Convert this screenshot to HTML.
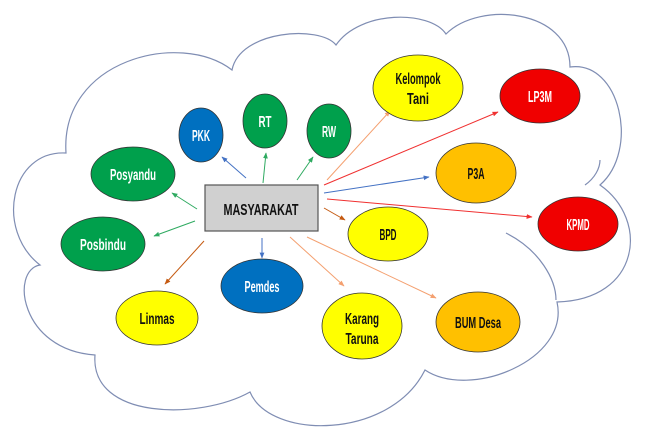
<!DOCTYPE html>
<html><head><meta charset="utf-8"><style>
html,body{margin:0;padding:0;background:#fff;}
svg{display:block;}
text{font-family:"Liberation Sans",sans-serif;font-weight:bold;font-size:16px;text-anchor:middle;}
</style></head><body>
<svg width="648" height="443" viewBox="0 0 648 443" xmlns="http://www.w3.org/2000/svg">
<defs>
<marker id="m" viewBox="0 0 10 10" refX="9" refY="5" markerWidth="6" markerHeight="6" orient="auto-start-reverse"><path d="M0,1 L10,5 L0,9 z" fill="context-stroke"/></marker>
</defs>
<path d="M66,153 C60,60 180,30 232,70 C240,30 320,25 336,45 C360,10 430,10 446,34 C480,0 570,10 570,67 C620,60 640,150 600,185 C650,220 640,300 557,302 C570,360 470,400 425,370 C390,440 270,440 250,392 C200,420 90,420 95,355 C20,350 10,270 40,265 C-5,230 10,150 66,153 Z" fill="#fff" stroke="#7f8db3" stroke-width="1.2"/>
<path d="M506,233 C540,250 556,280 556,300" fill="none" stroke="#7f8db3" stroke-width="1.2"/>
<path d="M585,185 C595,178 600,168 600,160" fill="none" stroke="#7f8db3" stroke-width="1.2"/>

<g stroke-width="1" fill="none" marker-end="url(#m)">
<line x1="246" y1="178" x2="222" y2="157" stroke="#4472c4"/>
<line x1="263" y1="183" x2="266" y2="153" stroke="#2eaa60"/>
<line x1="297" y1="180" x2="313" y2="157" stroke="#2eaa60"/>
<line x1="197" y1="209" x2="172" y2="193" stroke="#2eaa60"/>
<line x1="195" y1="221" x2="154" y2="236" stroke="#2eaa60"/>
<line x1="327" y1="180" x2="390" y2="111" stroke="#f4a070"/>
<line x1="324" y1="185" x2="498" y2="112" stroke="#f03030"/>
<line x1="324" y1="193" x2="429" y2="177" stroke="#4472c4"/>
<line x1="327" y1="199" x2="532" y2="217" stroke="#f03030"/>
<line x1="324" y1="208" x2="345" y2="220" stroke="#c55a11"/>
<line x1="262" y1="238" x2="262" y2="258" stroke="#4472c4"/>
<line x1="204" y1="241" x2="165" y2="284" stroke="#c55a11"/>
<line x1="290" y1="237" x2="344" y2="286" stroke="#f4a070"/>
<line x1="307" y1="237" x2="436" y2="298" stroke="#f4a070"/>
</g>

<rect x="205" y="185" width="113" height="46" fill="#d0d0d0" stroke="#555" stroke-width="1.2"/>
<text x="261" y="215" font-size="20" fill="#111" textLength="75" lengthAdjust="spacingAndGlyphs">MASYARAKAT</text>

<g stroke="#333" stroke-width="0.8">
<ellipse cx="201" cy="135" rx="22" ry="27" fill="#0070c0"/>
<ellipse cx="265" cy="121" rx="22" ry="27" fill="#00a04c"/>
<ellipse cx="329" cy="131" rx="22" ry="27" fill="#00a04c"/>
<ellipse cx="133" cy="174" rx="42" ry="27" fill="#00a04c"/>
<ellipse cx="103" cy="244" rx="42" ry="27" fill="#00a04c"/>
<ellipse cx="418" cy="88" rx="45" ry="33" fill="#ffff00"/>
<ellipse cx="540" cy="96" rx="40" ry="27" fill="#f00000"/>
<ellipse cx="476" cy="173" rx="40" ry="30" fill="#ffc000"/>
<ellipse cx="578" cy="224" rx="40" ry="27" fill="#f00000"/>
<ellipse cx="388" cy="234" rx="40" ry="27" fill="#ffff00"/>
<ellipse cx="262" cy="286" rx="41" ry="27" fill="#0070c0"/>
<ellipse cx="157" cy="318" rx="41" ry="27" fill="#ffff00"/>
<ellipse cx="362" cy="326" rx="40" ry="33" fill="#ffff00"/>
<ellipse cx="478" cy="322" rx="42" ry="30" fill="#ffc000"/>
</g>

<g fill="#fff">
<text x="201" y="141" textLength="18" lengthAdjust="spacingAndGlyphs">PKK</text>
<text x="265" y="127" textLength="13" lengthAdjust="spacingAndGlyphs">RT</text>
<text x="329" y="137" textLength="14" lengthAdjust="spacingAndGlyphs">RW</text>
<text x="133" y="180" textLength="46" lengthAdjust="spacingAndGlyphs">Posyandu</text>
<text x="103" y="250" textLength="46" lengthAdjust="spacingAndGlyphs">Posbindu</text>
<text x="540" y="102" textLength="24" lengthAdjust="spacingAndGlyphs">LP3M</text>
<text x="578" y="230" textLength="23" lengthAdjust="spacingAndGlyphs">KPMD</text>
<text x="262" y="292" textLength="35" lengthAdjust="spacingAndGlyphs">Pemdes</text>
</g>
<g fill="#111">
<text x="418" y="84" textLength="45" lengthAdjust="spacingAndGlyphs">Kelompok</text>
<text x="418" y="104" textLength="22" lengthAdjust="spacingAndGlyphs">Tani</text>
<text x="476" y="179" textLength="17" lengthAdjust="spacingAndGlyphs">P3A</text>
<text x="388" y="240" textLength="17" lengthAdjust="spacingAndGlyphs">BPD</text>
<text x="157" y="324" textLength="35" lengthAdjust="spacingAndGlyphs">Linmas</text>
<text x="362" y="324" textLength="34" lengthAdjust="spacingAndGlyphs">Karang</text>
<text x="362" y="344" textLength="33" lengthAdjust="spacingAndGlyphs">Taruna</text>
<text x="478" y="328" textLength="46" lengthAdjust="spacingAndGlyphs">BUM Desa</text>
</g>
</svg>
</body></html>
